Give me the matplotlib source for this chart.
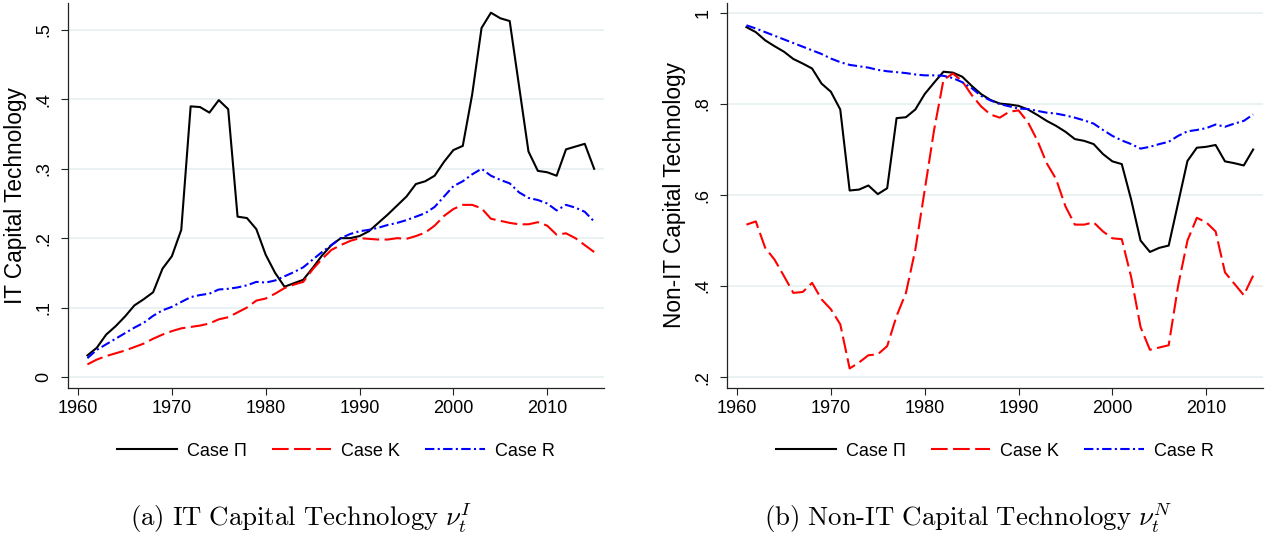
import matplotlib
matplotlib.use('Agg')
import matplotlib.pyplot as plt
from matplotlib.ticker import FuncFormatter

plt.rcParams['font.family'] = ['Liberation Sans', 'DejaVu Sans']
plt.rcParams['mathtext.fontset'] = 'cm'

years = list(range(1961, 2016))

# panel (a): IT capital technology
it_pi = [0.031, 0.042, 0.061, 0.073, 0.087, 0.103, 0.112, 0.122, 0.156, 0.174,
         0.212, 0.390, 0.389, 0.381, 0.399, 0.386, 0.231, 0.229, 0.213, 0.176,
         0.150, 0.130, 0.135, 0.140, 0.157, 0.175, 0.190, 0.200, 0.200, 0.203,
         0.210, 0.222, 0.234, 0.247, 0.260, 0.278, 0.282, 0.290, 0.310, 0.327,
         0.333, 0.407, 0.503, 0.525, 0.517, 0.513, 0.419, 0.325, 0.297, 0.295,
         0.290, 0.328, 0.332, 0.336, 0.300]
it_k = [0.018, 0.025, 0.030, 0.034, 0.038, 0.043, 0.048, 0.055, 0.061, 0.066,
        0.070, 0.072, 0.074, 0.077, 0.083, 0.086, 0.093, 0.100, 0.110, 0.113,
        0.120, 0.128, 0.133, 0.137, 0.155, 0.170, 0.183, 0.190, 0.196, 0.200,
        0.199, 0.198, 0.198, 0.200, 0.199, 0.203, 0.208, 0.218, 0.232, 0.242,
        0.248, 0.248, 0.243, 0.228, 0.225, 0.222, 0.220, 0.220, 0.223, 0.218,
        0.205, 0.207, 0.200, 0.190, 0.180]
it_r = [0.027, 0.039, 0.047, 0.055, 0.063, 0.071, 0.078, 0.088, 0.096, 0.101,
        0.108, 0.115, 0.118, 0.120, 0.126, 0.127, 0.129, 0.132, 0.137, 0.136,
        0.139, 0.145, 0.151, 0.158, 0.169, 0.180, 0.190, 0.200, 0.206, 0.210,
        0.212, 0.215, 0.219, 0.222, 0.226, 0.231, 0.236, 0.245, 0.260, 0.275,
        0.282, 0.292, 0.300, 0.290, 0.284, 0.279, 0.266, 0.258, 0.255, 0.250,
        0.240, 0.248, 0.244, 0.238, 0.224]

# panel (b): non-IT capital technology
nit_pi = [0.969, 0.958, 0.940, 0.927, 0.915, 0.899, 0.889, 0.878, 0.845, 0.827,
          0.788, 0.610, 0.612, 0.621, 0.602, 0.615, 0.769, 0.771, 0.788, 0.822,
          0.847, 0.871, 0.869, 0.860, 0.840, 0.822, 0.809, 0.801, 0.799, 0.796,
          0.788, 0.776, 0.763, 0.752, 0.739, 0.723, 0.719, 0.712, 0.690, 0.674,
          0.668, 0.590, 0.500, 0.475, 0.484, 0.489, 0.582, 0.675, 0.704, 0.706,
          0.710, 0.674, 0.670, 0.665, 0.700]
nit_k = [0.535, 0.542, 0.484, 0.458, 0.422, 0.385, 0.387, 0.407, 0.371, 0.349,
         0.316, 0.219, 0.232, 0.248, 0.250, 0.268, 0.334, 0.385, 0.480, 0.611,
         0.743, 0.853, 0.867, 0.850, 0.820, 0.795, 0.777, 0.770, 0.783, 0.786,
         0.760, 0.720, 0.670, 0.635, 0.575, 0.535, 0.535, 0.540, 0.520, 0.505,
         0.503, 0.420, 0.310, 0.260, 0.265, 0.270, 0.400, 0.500, 0.550, 0.540,
         0.520, 0.430, 0.405, 0.380, 0.423]
nit_r = [0.973, 0.966, 0.958, 0.950, 0.942, 0.934, 0.926, 0.918, 0.910, 0.900,
         0.892, 0.886, 0.883, 0.880, 0.875, 0.872, 0.870, 0.868, 0.865, 0.863,
         0.863, 0.862, 0.857, 0.848, 0.835, 0.818, 0.808, 0.800, 0.795, 0.790,
         0.789, 0.785, 0.781, 0.779, 0.775, 0.770, 0.764, 0.757, 0.743, 0.730,
         0.720, 0.712, 0.702, 0.706, 0.712, 0.717, 0.730, 0.740, 0.743, 0.747,
         0.755, 0.750, 0.757, 0.763, 0.777]

legend_labels = ['Case Π', 'Case K', 'Case R']
x_ticks = [1960, 1970, 1980, 1990, 2000, 2010]


def fmt(v, pos):
    s = '%g' % round(v, 3)
    if s.startswith('0.'):
        s = s[1:]
    return s


def draw_panel(ax, pi, k, r, ylabel, yticks, ylim):
    ax.plot(years, pi, color='black', lw=1.5, label=legend_labels[0])
    ax.plot(years, k, color='red', lw=1.5, dashes=(8, 2.6), label=legend_labels[1])
    ax.plot(years, r, color='blue', lw=1.5, dashes=(4.5, 1.6, 1, 1.6), label=legend_labels[2])
    ax.set_xlim(1958.93, 2016.05)
    ax.set_ylim(*ylim)
    ax.set_xticks(x_ticks)
    ax.set_yticks(yticks)
    ax.yaxis.set_major_formatter(FuncFormatter(fmt))
    ax.grid(axis='y', color='#e8f0f2', lw=1.3)
    ax.set_axisbelow(True)
    for side in ['top', 'right']:
        ax.spines[side].set_visible(False)
    for side in ['left', 'bottom']:
        ax.spines[side].set_color('#222222')
        ax.spines[side].set_linewidth(0.9)
    ax.tick_params(axis='both', labelsize=13, length=5, width=0.8, color='#222222')
    ax.tick_params(axis='y', pad=6)
    for lab in ax.get_yticklabels():
        lab.set_rotation(90)
        lab.set_va('center')
    ax.set_ylabel(ylabel, fontsize=16.3, labelpad=6)
    ax.legend(loc='upper center', bbox_to_anchor=(0.5, -0.1), ncol=3, frameon=False,
              fontsize=13, handlelength=3.3, handletextpad=0.55, columnspacing=1.4)


fig = plt.figure(figsize=(12.7, 5.39), dpi=100)
ax1 = fig.add_axes([68 / 1270, 151 / 539, 536 / 1270, 385 / 539])
ax2 = fig.add_axes([727 / 1270, 151 / 539, 536 / 1270, 385 / 539])

draw_panel(ax1, it_pi, it_k, it_r, 'IT Capital Technology',
           [0, 0.1, 0.2, 0.3, 0.4, 0.5], (-0.016, 0.539))
draw_panel(ax2, nit_pi, nit_k, nit_r, 'Non-IT Capital Technology',
           [0.2, 0.4, 0.6, 0.8, 1.0], (0.176, 1.022))

fig.text(301 / 1270, 1 - 518 / 539, r'$\mathrm{(a)\ IT\ Capital\ Technology}\ \nu_t^I$',
         ha='center', va='center', fontsize=19.3)
fig.text(968 / 1270, 1 - 518 / 539, r'$\mathrm{(b)\ Non\text{-}IT\ Capital\ Technology}\ \nu_t^N$',
         ha='center', va='center', fontsize=19.3)

fig.savefig('out.png', dpi=100)
